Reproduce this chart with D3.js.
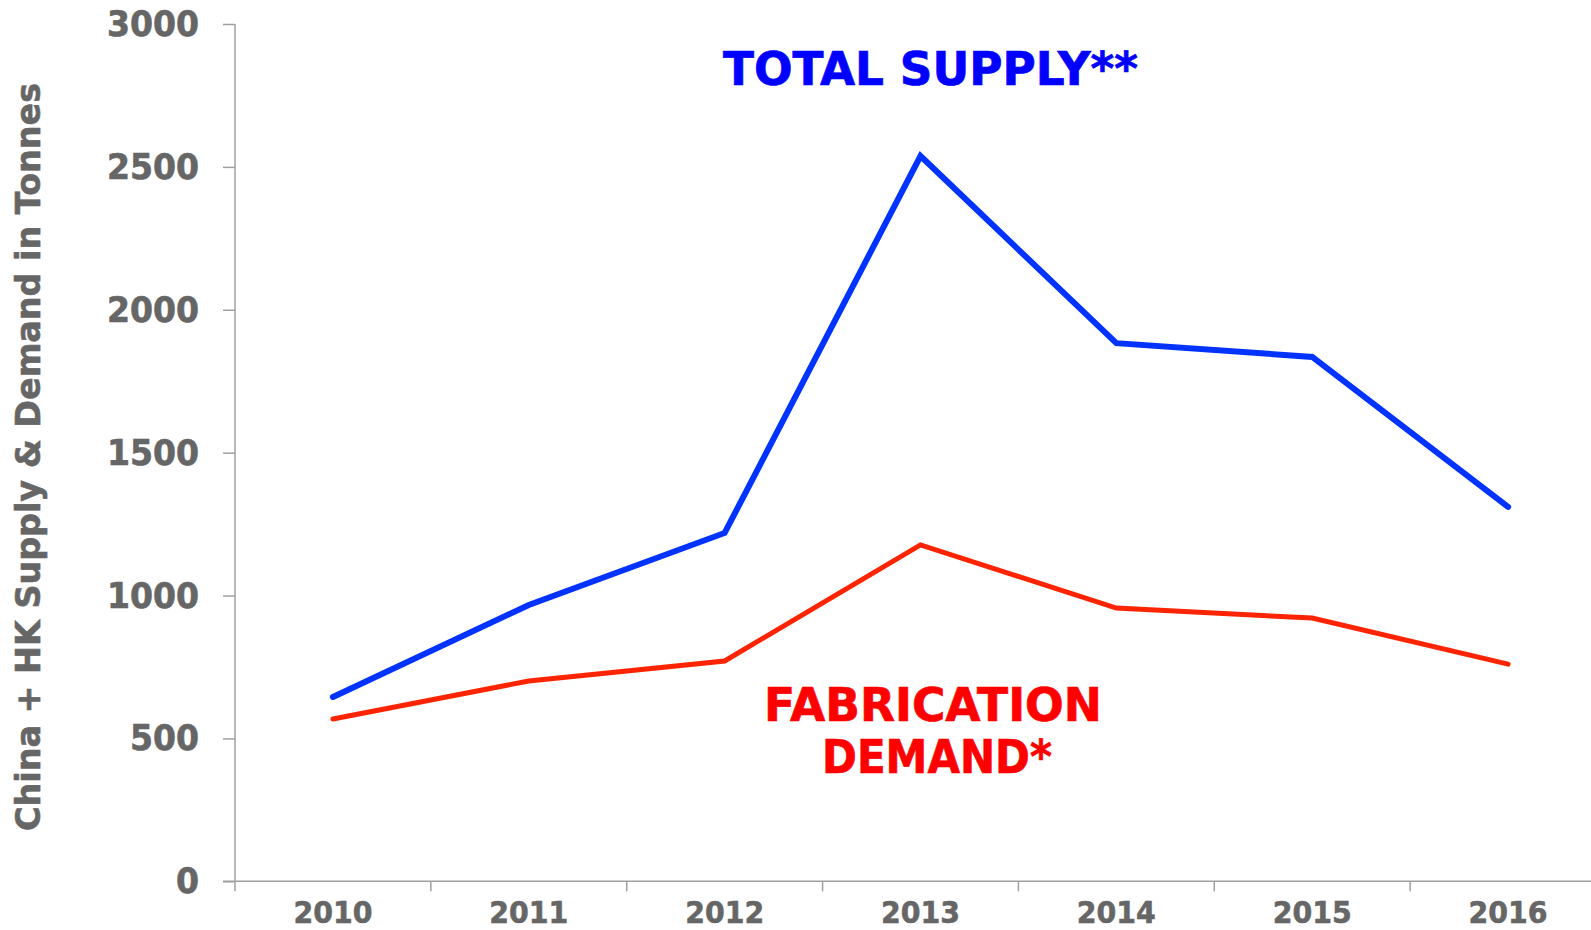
<!DOCTYPE html>
<html>
<head>
<meta charset="utf-8">
<script src="https://cdn.jsdelivr.net/npm/d3@7"></script>
<style>
  html, body { margin: 0; padding: 0; background: #fff; overflow: hidden; }
  svg { display: block; font-family: "DejaVu Sans", Verdana, sans-serif; font-weight: bold; }
</style>
</head>
<body>
<svg id="chart" width="1591" height="930"></svg>
<script>
const years = ["2010", "2011", "2012", "2013", "2014", "2015", "2016"];
const totalSupply = [645, 967, 1219, 2538, 1883, 1835, 1310];
const fabricationDemand = [568, 701, 771, 1177, 956, 921, 760];
const yTicks = [0, 500, 1000, 1500, 2000, 2500, 3000];
const yTitle = "China + HK Supply & Demand in Tonnes";
const supplyLabel = "TOTAL SUPPLY**";
const demandLabel = ["FABRICATION", "DEMAND*"];

const svg = d3.select("#chart");
const grey = "#666666";
const axisColor = "#a0a0a0";

const x = d3.scaleBand().domain(years).range([235, 1606]).padding(0);
const y = d3.scaleLinear().domain([0, 3000]).range([881.3, 24]);
const cx = d => x(d) + x.bandwidth() / 2;

// Y axis
const yAxis = svg.append("g")
  .attr("transform", "translate(235,0)")
  .call(d3.axisLeft(y).tickValues(yTicks).tickSize(12).tickPadding(24).tickFormat(d3.format("d")));
yAxis.select(".domain").attr("stroke", axisColor).attr("stroke-width", 1.5).attr("d", `M0,${y(3000)}V${y(0)}`);
yAxis.selectAll(".tick line").attr("stroke", axisColor).attr("stroke-width", 1.5);
yAxis.selectAll(".tick text")
  .attr("fill", grey)
  .attr("stroke", grey)
  .attr("stroke-width", 0.7)
  .style("font-size", "36px")
  .style("font-weight", "bold")
  .style("font-family", "'DejaVu Sans', Verdana, sans-serif")
  .attr("textLength", d => String(d).length * 23)
  .attr("lengthAdjust", "spacingAndGlyphs");

// X axis
const xAxis = svg.append("g")
  .attr("transform", `translate(0,${y(0)})`)
  .call(d3.axisBottom(x).tickSize(0).tickPadding(0));
xAxis.select(".domain").remove();
xAxis.append("line")
  .attr("x1", 223).attr("x2", 1606).attr("y1", 0).attr("y2", 0)
  .attr("stroke", axisColor).attr("stroke-width", 1.5);
xAxis.selectAll(".tickmark")
  .data(years.concat(["end"]))
  .enter().append("line")
  .attr("class", "tickmark")
  .attr("x1", d => d === "end" ? x.range()[1] : x(d))
  .attr("x2", d => d === "end" ? x.range()[1] : x(d))
  .attr("y1", 0).attr("y2", 10)
  .attr("stroke", axisColor).attr("stroke-width", 1.5);
xAxis.selectAll(".tick text")
  .attr("fill", grey)
  .attr("stroke", grey)
  .attr("stroke-width", 0.6)
  .attr("y", 42)
  .attr("dy", 0)
  .style("font-size", "31px")
  .style("font-weight", "bold")
  .style("font-family", "'DejaVu Sans', Verdana, sans-serif")
  .attr("textLength", 79)
  .attr("lengthAdjust", "spacingAndGlyphs");

// Y title
svg.append("text")
  .attr("transform", "translate(40,457) rotate(-90)")
  .attr("text-anchor", "middle")
  .attr("fill", grey)
  .attr("stroke", grey)
  .attr("stroke-width", 0.6)
  .style("font-size", "33px")
  .attr("textLength", 748)
  .attr("lengthAdjust", "spacingAndGlyphs")
  .text(yTitle);

// Lines
const line = d3.line().x((d, i) => cx(years[i])).y(d => y(d));
svg.append("path")
  .datum(fabricationDemand)
  .attr("d", line)
  .attr("fill", "none")
  .attr("stroke", "#ff2400")
  .attr("stroke-width", 5)
  .attr("stroke-linecap", "round")
  .attr("stroke-linejoin", "miter");
svg.append("path")
  .datum(totalSupply)
  .attr("d", line)
  .attr("fill", "none")
  .attr("stroke", "#0033ff")
  .attr("stroke-width", 6)
  .attr("stroke-linecap", "round")
  .attr("stroke-linejoin", "miter");

// Labels
svg.append("text")
  .attr("x", 723).attr("y", 85)
  .attr("fill", "#0000ff")
  .attr("stroke", "#0000ff")
  .attr("stroke-width", 0.7)
  .style("font-size", "46px")
  .attr("textLength", 415)
  .attr("lengthAdjust", "spacingAndGlyphs")
  .text(supplyLabel);

const lbl = svg.append("text")
  .attr("fill", "#ff0000")
  .attr("stroke", "#ff0000")
  .attr("stroke-width", 0.7)
  .style("font-size", "47px")
  .attr("text-anchor", "middle");
lbl.append("tspan").attr("x", 933).attr("y", 721).attr("textLength", 338).attr("lengthAdjust", "spacingAndGlyphs").text(demandLabel[0]);
lbl.append("tspan").attr("x", 937).attr("y", 773).attr("textLength", 230).attr("lengthAdjust", "spacingAndGlyphs").text(demandLabel[1]);
</script>
</body>
</html>
